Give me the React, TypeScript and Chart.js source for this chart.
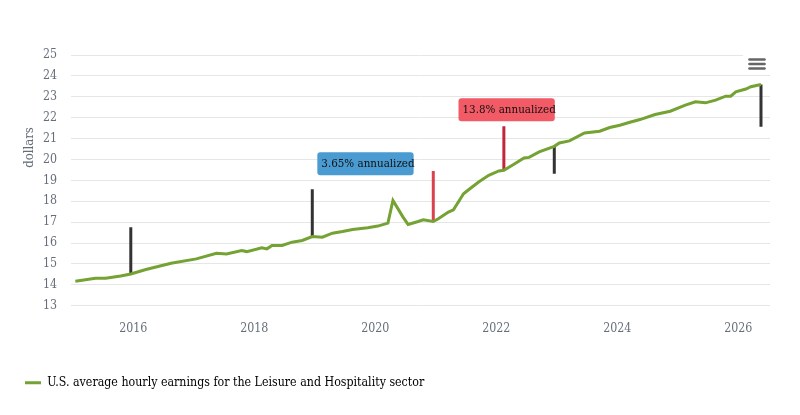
import React, { useEffect, useRef } from "react";
import { Chart, registerables } from "chart.js";

Chart.register(...registerables);

// Monthly observations (YYYY-MM) and average hourly earnings in dollars
const months = [
  "2015-01", "2015-05", "2015-07", "2015-10", "2015-12",
  "2016-03", "2016-08",
  "2017-01", "2017-05", "2017-07", "2017-10", "2017-11",
  "2018-02", "2018-03", "2018-04", "2018-06", "2018-08", "2018-10", "2018-12",
  "2019-02", "2019-04", "2019-06", "2019-08", "2019-11",
  "2020-01", "2020-03", "2020-04", "2020-06", "2020-07", "2020-09", "2020-10", "2020-12",
  "2021-01", "2021-03", "2021-04", "2021-06", "2021-07", "2021-09", "2021-11",
  "2022-01", "2022-02", "2022-04", "2022-06", "2022-07", "2022-09", "2022-12",
  "2023-01", "2023-03", "2023-06", "2023-09", "2023-11",
  "2024-01", "2024-03", "2024-05", "2024-08", "2024-11",
  "2025-02", "2025-04", "2025-06", "2025-08", "2025-10", "2025-11", "2025-12",
  "2026-02", "2026-03", "2026-05",
];
const earnings = [
  14.17, 14.31, 14.31, 14.42, 14.52,
  14.73, 15.03,
  15.24, 15.51, 15.48, 15.64, 15.59,
  15.77, 15.72, 15.88, 15.88, 16.04, 16.12, 16.31,
  16.28, 16.47, 16.55, 16.65, 16.73,
  16.81, 16.95, 18.04, 17.24, 16.89, 17.03, 17.11, 17.03,
  17.16, 17.48, 17.59, 18.36, 18.55, 18.92, 19.24,
  19.45, 19.48, 19.77, 20.07, 20.10, 20.36, 20.63,
  20.79, 20.89, 21.27, 21.35, 21.53,
  21.64, 21.78, 21.91, 22.15, 22.31,
  22.60, 22.76, 22.71, 22.84, 23.03, 23.03, 23.24,
  23.37, 23.48, 23.59,
];

// Vertical marker segments
const markerMonths = ["2015-12", "2018-12", "2020-12", "2022-02", "2022-12", "2026-05"];
const markerFrom = [14.52, 16.31, 17.03, 19.48, 20.63, 23.59];
const markerTo = [16.76, 18.57, 19.45, 21.59, 19.32, 21.56];
const markerColors = ["#333333", "#333333", "#d9424f", "#c2263d", "#333333", "#333333"];

// Annotation labels (anchored at left edge, vertical centre)
const noteTexts = ["3.65% annualized", "13.8% annualized"];
const noteMonths = ["2019-01", "2021-05"];
const noteValues = [19.8, 22.38];
const noteColors = ["#4a9bd1", "#f25a66"];

const yearTicks = [2016, 2018, 2020, 2022, 2024, 2026];
const seriesName = "U.S. average hourly earnings for the Leisure and Hospitality sector";
const axisTitle = "dollars";

const FONT = '"DejaVu Serif Condensed", "DejaVu Serif", serif';

const toYear = (m: string) => {
  const [y, mo] = m.split("-").map(Number);
  return y + (mo - 0.5) / 12;
};

export default function App() {
  const ref = useRef<HTMLCanvasElement | null>(null);

  useEffect(() => {
    document.body.style.margin = "0";
    if (!ref.current) return;

    const mainData = months.map((m, i) => ({ x: toYear(m), y: earnings[i] }));
    const markerSets = markerMonths.map((m, i) => ({
      label: "marker" + i,
      data: [
        { x: toYear(m), y: markerFrom[i] },
        { x: toYear(m), y: markerTo[i] },
      ],
      borderColor: markerColors[i],
      backgroundColor: markerColors[i],
      borderWidth: 3,
      pointRadius: 0,
      borderCapStyle: "butt" as const,
      order: 2,
    }));

    const overlay = {
      id: "overlay",
      afterDatasetsDraw(chart: any) {
        const { ctx, scales } = chart;
        ctx.save();
        ctx.font = `11.5px ${FONT}`;
        noteTexts.forEach((t, i) => {
          const x = scales.x.getPixelForValue(toYear(noteMonths[i]));
          const yc = scales.y.getPixelForValue(noteValues[i]);
          const w = ctx.measureText(t).width + 3;
          const h = 23;
          ctx.fillStyle = noteColors[i];
          ctx.beginPath();
          ctx.roundRect(x, yc - h / 2, w, h, 3);
          ctx.fill();
          ctx.fillStyle = "#111111";
          ctx.textBaseline = "middle";
          ctx.textAlign = "left";
          ctx.fillText(t, x + 4, yc + 0.5);
        });
        ctx.restore();
      },
      afterDraw(chart: any) {
        const { ctx, chartArea } = chart;
        ctx.save();
        ctx.translate(29.5, 147.5);
        ctx.rotate(-Math.PI / 2);
        ctx.font = `13px ${FONT}`;
        ctx.fillStyle = "#666e7a";
        ctx.textAlign = "center";
        ctx.textBaseline = "middle";
        ctx.fillText(axisTitle, 0, 0);
        ctx.restore();
        ctx.save();
        ctx.fillStyle = "#ffffff";
        ctx.fillRect(chartArea.right - 27, chartArea.top - 8, 30, 24);
        ctx.strokeStyle = "#666666";
        ctx.lineWidth = 2.6;
        ctx.lineCap = "round";
        [59.5, 64, 68.5].forEach((yy) => {
          ctx.beginPath();
          ctx.moveTo(749.5, yy);
          ctx.lineTo(764.5, yy);
          ctx.stroke();
        });
        ctx.restore();
      },
    };

    const chart = new Chart(ref.current, {
      type: "line",
      data: {
        datasets: [
          {
            label: seriesName,
            data: mainData,
            borderColor: "#74a233",
            backgroundColor: "#74a233",
            borderWidth: 3,
            pointRadius: 0,
            tension: 0,
            order: 1,
          },
          ...markerSets,
        ] as any,
      },
      options: {
        animation: false,
        responsive: false,
        layout: { padding: { top: 55, right: 30, bottom: 16, left: 8 } },
        plugins: {
          tooltip: { enabled: false },
          legend: {
            position: "bottom",
            align: "start",
            labels: {
              padding: 17,
              boxWidth: 16,
              boxHeight: 3,
              color: "#333333",
              font: { family: FONT, size: 12.3 },
              generateLabels: () => [
                {
                  text: seriesName,
                  fillStyle: "#74a233",
                  strokeStyle: "#74a233",
                  lineWidth: 0,
                  hidden: false,
                  datasetIndex: 0,
                } as any,
              ],
            },
            onClick: () => {},
          },
        },
        scales: {
          x: {
            type: "linear",
            min: 2014.97,
            max: 2026.524,
            grid: { display: false, drawTicks: false },
            border: { display: false },
            ticks: {
              color: "#666e7a",
              padding: 16,
              maxRotation: 0,
              font: { family: FONT, size: 12.3 },
              callback: (v: any) => String(v),
            },
            afterBuildTicks: (s: any) => {
              s.ticks = yearTicks.map((v) => ({ value: v }));
            },
            afterFit: (s: any) => {
              s.height = 54;
            },
          },
          y: {
            min: 13,
            max: 25,
            grid: { color: "#e6e6e6", drawTicks: false },
            border: { display: false },
            ticks: {
              stepSize: 1,
              padding: 14,
              color: "#666e7a",
              font: { family: FONT, size: 12.3 },
            },
            afterFit: (s: any) => {
              s.width = 63;
            },
          },
        },
      },
      plugins: [overlay],
    });

    return () => chart.destroy();
  }, []);

  return (
    <div style={{ width: 800, height: 415, background: "#ffffff" }}>
      <canvas ref={ref} width={800} height={415} />
    </div>
  );
}
